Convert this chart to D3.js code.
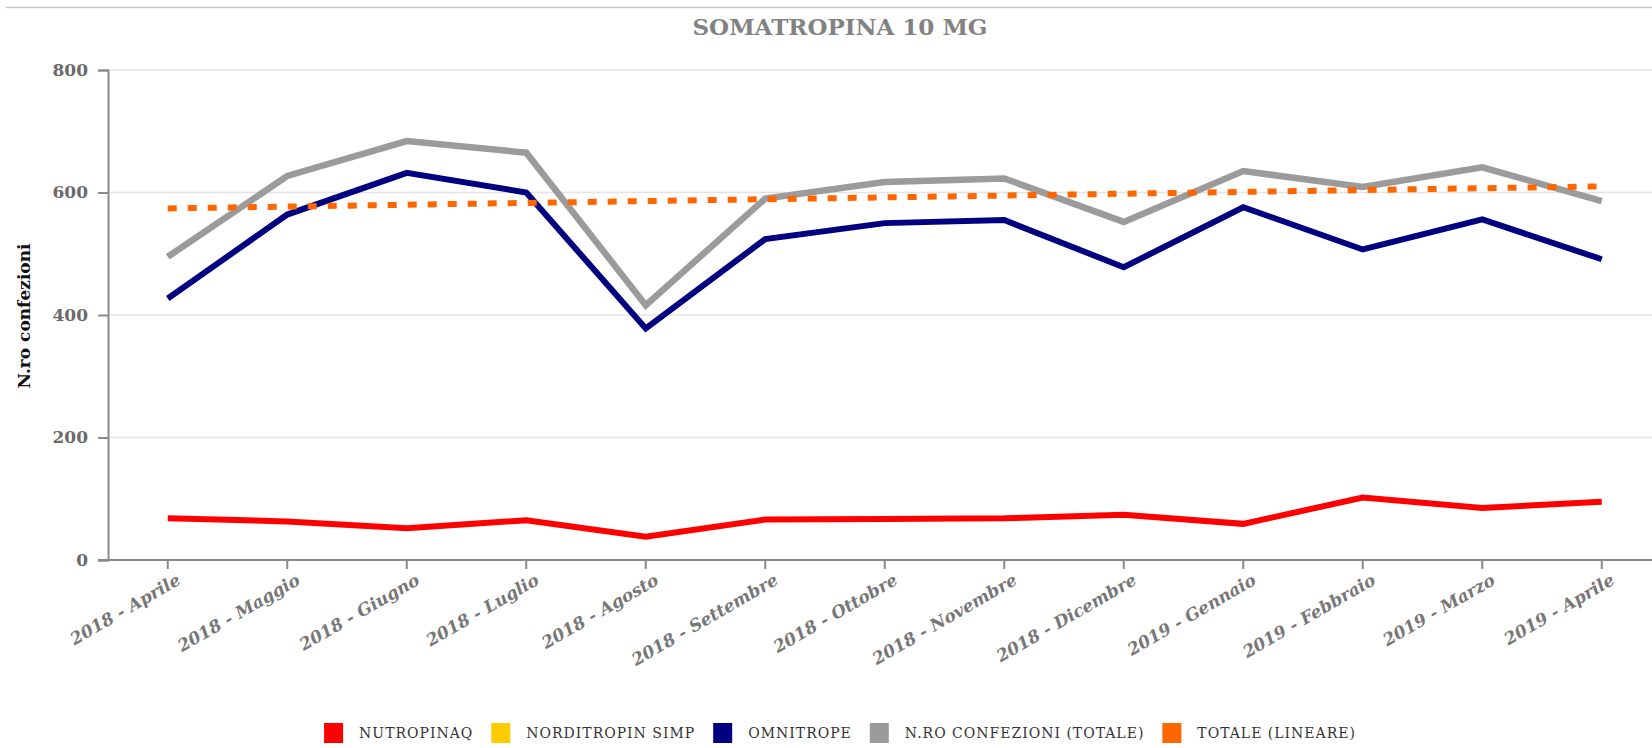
<!DOCTYPE html>
<html>
<head>
<meta charset="utf-8">
<script src="https://cdn.jsdelivr.net/npm/d3@7/dist/d3.min.js"></script>
<style>
    body { margin: 0; overflow: hidden; background: #fff; }
    text { font-family: "DejaVu Serif", "Liberation Serif", serif; }
</style>
</head>
<body>
<div id="chart"></div>
<script>
// Data
var months = ['2018 - Aprile', '2018 - Maggio', '2018 - Giugno', '2018 - Luglio', '2018 - Agosto',
    '2018 - Settembre', '2018 - Ottobre', '2018 - Novembre', '2018 - Dicembre',
    '2019 - Gennaio', '2019 - Febbraio', '2019 - Marzo', '2019 - Aprile'];
var nutropinaq = [68, 63, 52, 65, 38, 66, 67, 68, 74, 59, 102, 85, 95];
var norditropin_simp = [];
var omnitrope = [427, 564, 632, 600, 378, 524, 550, 555, 478, 576, 507, 556, 491];
var totale = [495, 627, 684, 665, 416, 590, 617, 623, 552, 635, 609, 641, 586];
var totale_lineare = [574, 577, 580, 583, 586, 589, 592, 595, 598, 601, 604, 607, 610];
var y_ticks = [0, 200, 400, 600, 800];
var legend_names = ['NUTROPINAQ', 'NORDITROPIN SIMP', 'OMNITROPE', 'N.RO CONFEZIONI (TOTALE)', 'TOTALE (LINEARE)'];

var chart_title = 'SOMATROPINA 10 MG';
var y_title = 'N.ro confezioni';

var colors = ['#ff0000', '#ffcc00', '#000080', '#9b9b9b', '#ff6600'];
var chart_width = 1680;
var chart_height = 748;
var plot_left = 108, plot_right = 1661.5, plot_top = 70, plot_bottom = 560;

var svg = d3.select('#chart')
    .append('svg')
    .attr('width', chart_width)
    .attr('height', chart_height);

// top rule
svg.append('line')
    .attr('x1', 6).attr('x2', chart_width)
    .attr('y1', 7.5).attr('y2', 7.5)
    .attr('stroke', '#c8c8c8')
    .attr('stroke-width', 1.5);

// title
svg.append('text')
    .attr('x', 840).attr('y', 35)
    .attr('text-anchor', 'middle')
    .attr('font-size', 23)
    .attr('font-weight', 'bold')
    .attr('fill', '#828282')
    .text(chart_title);

// Scales
var x_scale = d3.scaleBand()
    .domain(months)
    .range([plot_left, plot_right]);
var y_scale = d3.scaleLinear()
    .domain([0, 800])
    .range([plot_bottom, plot_top]);

function xc(i) {
    return x_scale(months[i]) + x_scale.bandwidth() / 2;
}

// grid
svg.append('g')
    .selectAll('line')
    .data(y_ticks.filter(function(d){ return d > 0; }))
    .join('line')
    .attr('x1', plot_left).attr('x2', plot_right)
    .attr('y1', function(d){ return y_scale(d); })
    .attr('y2', function(d){ return y_scale(d); })
    .attr('stroke', '#e4e4e4')
    .attr('stroke-width', 1.5);

// Axes
var x_axis = d3.axisBottom(x_scale).tickSize(9).tickSizeOuter(0);
var y_axis = d3.axisLeft(y_scale).tickValues(y_ticks).tickSize(10).tickSizeOuter(10);

var gx = svg.append('g')
    .attr('transform', 'translate(0,' + plot_bottom + ')')
    .call(x_axis);
gx.select('.domain').attr('d', 'M' + (plot_left - 10) + ',0H' + plot_right);
gx.selectAll('line, path').attr('stroke', '#8a8a8a').attr('stroke-width', 2);
gx.selectAll('text')
    .attr('font-family', '"DejaVu Serif", serif')
    .attr('font-size', 17)
    .attr('font-style', 'italic')
    .attr('font-weight', 'bold')
    .attr('fill', '#777')
    .attr('text-anchor', 'end')
    .attr('y', 0)
    .attr('dy', '0.71em')
    .attr('transform', 'translate(8,13) rotate(-30)');

var gy = svg.append('g')
    .attr('transform', 'translate(' + plot_left + ',0)')
    .call(y_axis);
gy.selectAll('line, path').attr('stroke', '#8a8a8a').attr('stroke-width', 2);
gy.selectAll('text')
    .attr('font-family', '"DejaVu Serif", serif')
    .attr('font-size', 17)
    .attr('font-weight', 'bold')
    .attr('fill', '#6a6a6a')
    .attr('x', -20);

svg.append('text')
    .attr('transform', 'translate(30,316) rotate(-90)')
    .attr('text-anchor', 'middle')
    .attr('font-size', 17)
    .attr('font-weight', 'bold')
    .attr('fill', '#111')
    .text(y_title);

// Lines
var line = d3.line()
    .x(function(d, i){ return xc(i); })
    .y(function(d){ return y_scale(d); });

var series = [
    { values: nutropinaq, color: colors[0], width: 6, dash: null },
    { values: norditropin_simp, color: colors[1], width: 6, dash: null },
    { values: omnitrope, color: colors[2], width: 6, dash: null },
    { values: totale, color: colors[3], width: 6.5, dash: null },
    { values: totale_lineare, color: colors[4], width: 6, dash: '9,11' }
];

series.forEach(function(s){
    if (!s.values.length) return;
    svg.append('path')
        .datum(s.values)
        .attr('fill', 'none')
        .attr('stroke', s.color)
        .attr('stroke-width', s.width)
        .attr('stroke-dasharray', s.dash)
        .attr('d', line);
});

// Legend
var legend = svg.append('g');
var lx = 0;
legend_names.forEach(function(name, i){
    var g = legend.append('g').attr('transform', 'translate(' + lx + ',0)');
    g.append('rect')
        .attr('x', 0).attr('y', 723)
        .attr('width', 19).attr('height', 20)
        .attr('fill', colors[i]);
    var t = g.append('text')
        .attr('x', 35).attr('y', 738)
        .attr('font-size', 14)
        .attr('letter-spacing', 1)
        .attr('fill', '#333')
        .text(name);
    lx += 35 + t.node().getComputedTextLength() + 18;
});
var legend_width = lx - 18;
legend.attr('transform', 'translate(' + (840 - legend_width / 2) + ',0)');
</script>
</body>
</html>
